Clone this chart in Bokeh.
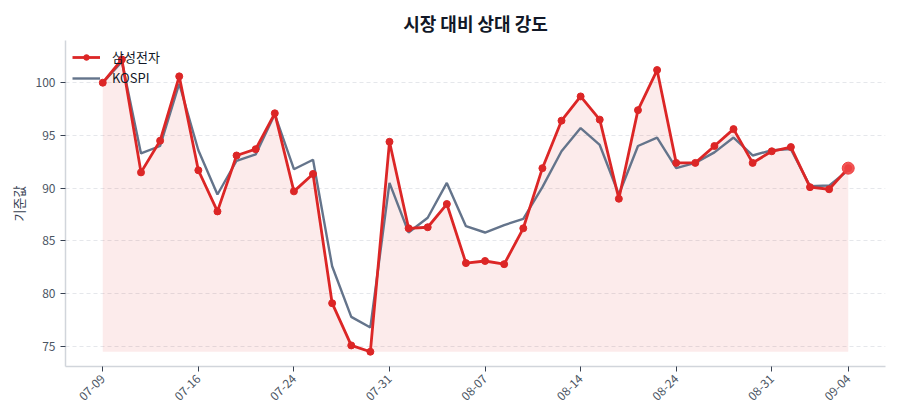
import math

from bokeh.embed import file_html
from bokeh.models import FixedTicker, Legend, LegendItem
from bokeh.plotting import figure
from bokeh.resources import INLINE

# trading days (MM-DD)
dates = [
    "07-09", "07-10", "07-11", "07-14", "07-15", "07-16", "07-17", "07-18", "07-21", "07-22",
    "07-24", "07-25", "07-28", "07-29", "07-30", "07-31", "08-01", "08-04", "08-05", "08-06",
    "08-07", "08-08", "08-11", "08-12", "08-13", "08-14", "08-18", "08-19", "08-20", "08-21",
    "08-24", "08-25", "08-26", "08-27", "08-28", "08-31", "09-01", "09-02", "09-03", "09-04",
]

# rebased to 100 on the first day
samsung = [
    100.0, 102.2, 91.5, 94.5, 100.6, 91.7, 87.8, 93.1, 93.7, 97.1,
    89.7, 91.35, 79.1, 75.1, 74.5, 94.4, 86.2, 86.3, 88.5, 82.9,
    83.1, 82.8, 86.2, 91.9, 96.4, 98.7, 96.5, 89.0, 97.4, 101.2,
    92.4, 92.4, 94.0, 95.6, 92.4, 93.5, 93.9, 90.1, 89.9, 91.9,
]
kospi = [
    100.0, 102.0, 93.3, 94.0, 99.9, 93.6, 89.4, 92.6, 93.2, 97.0,
    91.8, 92.7, 82.6, 77.8, 76.8, 90.5, 85.8, 87.2, 90.5, 86.4,
    85.8, 86.5, 87.1, 90.1, 93.5, 95.7, 94.1, 89.4, 94.0, 94.8,
    91.9, 92.4, 93.4, 94.8, 93.1, 93.6, 93.7, 90.2, 90.25, 91.7,
]
tick_idx = [0, 5, 10, 15, 20, 25, 30, 35, 39]

RED = "#dc2626"
SLATE = "#64748b"
FONT = "Noto Sans CJK KR"

xs = list(range(len(dates)))
base = min(samsung)

p = figure(
    width=892, height=412,
    x_range=(-1.95, 40.95), y_range=(73.1, 104.0),
    title="시장 대비 상대 강도",
    output_backend="svg", toolbar_location=None,
    min_border_left=65, min_border_right=7, min_border_top=40, min_border_bottom=46,
)
p.outline_line_color = None

p.title.align = "center"
p.title.text_font = FONT
p.title.text_font_size = "18px"
p.title.text_font_style = "bold"
p.title.text_color = "#111827"

p.varea(x=xs, y1=[base] * len(xs), y2=samsung, fill_color=RED, fill_alpha=0.09)
k_line = p.line(xs, kospi, line_color=SLATE, line_width=2.4)
s_line = p.line(xs, samsung, line_color=RED, line_width=2.8)
s_pts = p.scatter(xs, samsung, size=7, fill_color=RED, line_color=RED)
p.scatter(xs[-1:], samsung[-1:], size=12, fill_color="#ef4444", line_color="#ef4444", fill_alpha=0.9)

legend = Legend(
    items=[
        LegendItem(label="삼성전자", renderers=[s_line, s_pts]),
        LegendItem(label="KOSPI", renderers=[k_line]),
    ],
    location="top_left",
    background_fill_alpha=0, border_line_alpha=0,
    label_text_font=FONT, label_text_font_size="13px", label_text_color="#111827",
    glyph_width=28, glyph_height=14, label_height=14, spacing=2,
    padding=2, margin=6, label_standoff=12,
)
legend.margin = 5
p.add_layout(legend)

p.xgrid.grid_line_color = None
p.ygrid.grid_line_color = "#e5e7eb"
p.ygrid.grid_line_dash = "4 3"

p.xaxis.ticker = FixedTicker(ticks=tick_idx)
p.xaxis.major_label_overrides = {i: dates[i] for i in tick_idx}
p.xaxis.major_label_orientation = math.pi / 4
p.yaxis.ticker = FixedTicker(ticks=[75, 80, 85, 90, 95, 100])

for ax in (p.xaxis, p.yaxis):
    ax.axis_line_color = "#d1d5db"
    ax.axis_line_width = 1.5
    ax.major_tick_line_color = "#374151"
    ax.major_tick_out = 5
    ax.major_tick_in = 0
    ax.minor_tick_line_color = None
    ax.major_label_text_font = FONT
    ax.major_label_text_font_size = "12px"
    ax.major_label_text_color = "#4b5563"

p.yaxis.axis_label = "기준값"
p.yaxis.axis_label_text_font = FONT
p.yaxis.axis_label_text_font_size = "13px"
p.yaxis.axis_label_text_font_style = "normal"
p.yaxis.axis_label_text_color = "#374151"

open("out.html", "w").write(file_html(p, INLINE))
